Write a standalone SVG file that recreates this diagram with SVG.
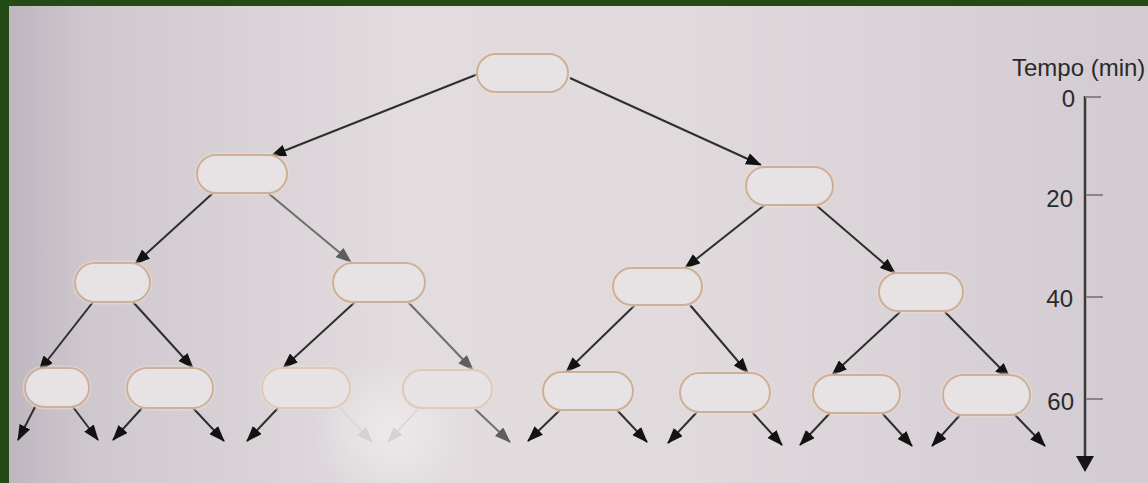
<svg xmlns="http://www.w3.org/2000/svg" width="1148" height="483" viewBox="0 0 1148 483">
<defs>
<linearGradient id="bg" x1="0" y1="0" x2="1" y2="0">
<stop offset="0" stop-color="#bdb5be"/>
<stop offset="0.08" stop-color="#cfc8cf"/>
<stop offset="0.35" stop-color="#e2dcdf"/>
<stop offset="0.6" stop-color="#e0dadd"/>
<stop offset="0.85" stop-color="#d7d0d6"/>
<stop offset="1" stop-color="#d3cbd2"/>
</linearGradient>
<radialGradient id="glare" cx="0.5" cy="0.5" r="0.5">
<stop offset="0" stop-color="#ffffff" stop-opacity="0.4"/>
<stop offset="1" stop-color="#ffffff" stop-opacity="0"/>
</radialGradient>
<marker id="ah" viewBox="0 0 16 12" refX="15" refY="6" markerWidth="16" markerHeight="12" markerUnits="userSpaceOnUse" orient="auto">
<path d="M0,0 L16,6 L0,12 z" fill="#121212"/>
</marker>
<marker id="ahg" viewBox="0 0 16 12" refX="15" refY="6" markerWidth="16" markerHeight="12" markerUnits="userSpaceOnUse" orient="auto">
<path d="M0,0 L16,6 L0,12 z" fill="#5e5e5e"/>
</marker>
<marker id="ahf" viewBox="0 0 16 12" refX="15" refY="6" markerWidth="16" markerHeight="12" markerUnits="userSpaceOnUse" orient="auto">
<path d="M0,0 L16,6 L0,12 z" fill="#d6d1d3"/>
</marker>
</defs>
<style>
.cell{fill:#e7e2e4;stroke:#ccb09a;stroke-width:2}
.glow{fill:none;stroke:#f0ddd0;stroke-width:5;opacity:0.5}
.c{stroke:#2e2e2e;stroke-width:2;fill:none;marker-end:url(#ah)}
.cg{stroke:#6e6e6e;stroke-width:2;fill:none;marker-end:url(#ahg)}
.cf{stroke:#d8d3d6;stroke-width:1.5;fill:none;marker-end:url(#ahf)}
.t{font-family:"Liberation Sans",Arial,sans-serif;font-size:24px;fill:#2a2a2a}
.tick{stroke:#8a8588;stroke-width:2}
</style>
<rect x="0" y="0" width="1148" height="483" fill="url(#bg)"/>
<ellipse cx="390" cy="430" rx="80" ry="70" fill="url(#glare)"/>
<rect x="0" y="0" width="1148" height="6" fill="#244b14"/>
<rect x="0" y="0" width="9" height="483" fill="#244b14"/>

<g id="connectors">
<line class="c" x1="478" y1="74" x2="271" y2="156"/>
<line class="c" x1="570" y1="78" x2="761" y2="165"/>
<line class="c" x1="213" y1="193" x2="135" y2="264"/>
<line class="cg" x1="268" y1="193" x2="351" y2="262"/>
<line class="c" x1="766" y1="204" x2="685" y2="268"/>
<line class="c" x1="817" y1="206" x2="895" y2="273"/>
<line class="c" x1="93" y1="302" x2="39" y2="371"/>
<line class="c" x1="133" y1="302" x2="193" y2="368"/>
<line class="c" x1="355" y1="302" x2="283" y2="368"/>
<line class="cg" x1="408" y1="302" x2="473" y2="370"/>
<line class="c" x1="635" y1="305" x2="566" y2="372"/>
<line class="c" x1="690" y1="305" x2="748" y2="373"/>
<line class="c" x1="900" y1="312" x2="832" y2="375"/>
<line class="c" x1="945" y1="312" x2="1010" y2="378"/>
<line class="c" x1="35" y1="407" x2="18" y2="440"/>
<line class="c" x1="73" y1="407" x2="98" y2="440"/>
<line class="c" x1="142" y1="408" x2="113" y2="440"/>
<line class="c" x1="193" y1="408" x2="224" y2="441"/>
<line class="c" x1="278" y1="408" x2="247" y2="441"/>
<line class="cf" x1="340" y1="408" x2="372" y2="442"/>
<line class="cf" x1="418" y1="409" x2="388" y2="442"/>
<line class="cg" x1="475" y1="409" x2="510" y2="442"/>
<line class="c" x1="560" y1="410" x2="528" y2="441"/>
<line class="c" x1="617" y1="410" x2="647" y2="442"/>
<line class="c" x1="697" y1="412" x2="668" y2="443"/>
<line class="c" x1="752" y1="412" x2="782" y2="445"/>
<line class="c" x1="830" y1="413" x2="800" y2="445"/>
<line class="c" x1="882" y1="413" x2="912" y2="446"/>
<line class="c" x1="960" y1="415" x2="932" y2="446"/>
<line class="c" x1="1015" y1="415" x2="1045" y2="446"/>
</g>

<g id="n0"><rect class="glow" x="477" y="54" width="91" height="38" rx="19"/><rect class="cell" x="477" y="54" width="91" height="38" rx="19"/></g>
<g id="n1a"><rect class="glow" x="197" y="155" width="90" height="38" rx="19"/><rect class="cell" x="197" y="155" width="90" height="38" rx="19"/></g>
<g id="n1b"><rect class="glow" x="746" y="167" width="87" height="38" rx="19"/><rect class="cell" x="746" y="167" width="87" height="38" rx="19"/></g>
<g id="n2a"><rect class="glow" x="75" y="263" width="75" height="39" rx="19.5"/><rect class="cell" x="75" y="263" width="75" height="39" rx="19.5"/></g>
<g id="n2b"><rect class="glow" x="333" y="263" width="92" height="39" rx="19.5"/><rect class="cell" x="333" y="263" width="92" height="39" rx="19.5"/></g>
<g id="n2c"><rect class="glow" x="613" y="268" width="89" height="37" rx="18.5"/><rect class="cell" x="613" y="268" width="89" height="37" rx="18.5"/></g>
<g id="n2d"><rect class="glow" x="879" y="273" width="84" height="38" rx="19"/><rect class="cell" x="879" y="273" width="84" height="38" rx="19"/></g>
<g id="n3a"><rect class="glow" x="25" y="368" width="64" height="39" rx="19.5"/><rect class="cell" x="25" y="368" width="64" height="39" rx="19.5"/></g>
<g id="n3b"><rect class="glow" x="127" y="368" width="86" height="40" rx="20"/><rect class="cell" x="127" y="368" width="86" height="40" rx="20"/></g>
<g id="n3c"><rect class="glow" x="262" y="368" width="88" height="40" rx="20"/><rect class="cell" x="262" y="368" width="88" height="40" rx="20" style="stroke:#dcc9ba"/></g>
<g id="n3d"><rect class="glow" x="403" y="370" width="89" height="38" rx="19"/><rect class="cell" x="403" y="370" width="89" height="38" rx="19" style="stroke:#ddcabb"/></g>
<g id="n3e"><rect class="glow" x="543" y="372" width="90" height="38" rx="19"/><rect class="cell" x="543" y="372" width="90" height="38" rx="19"/></g>
<g id="n3f"><rect class="glow" x="680" y="373" width="90" height="39" rx="19.5"/><rect class="cell" x="680" y="373" width="90" height="39" rx="19.5"/></g>
<g id="n3g"><rect class="glow" x="813" y="375" width="87" height="38" rx="19"/><rect class="cell" x="813" y="375" width="87" height="38" rx="19"/></g>
<g id="n3h"><rect class="glow" x="943" y="375" width="87" height="40" rx="20"/><rect class="cell" x="943" y="375" width="87" height="40" rx="20"/></g>

<g id="axis">
<text class="t" x="1012" y="76">Tempo (min)</text>
<line x1="1085" y1="96" x2="1085" y2="458" stroke="#3a3a3a" stroke-width="2.5"/>
<path d="M1076,456 L1094,456 L1085,472 z" fill="#151515"/>
<line class="tick" x1="1085" y1="97" x2="1101" y2="97"/>
<line class="tick" x1="1086" y1="195" x2="1103" y2="195"/>
<line class="tick" x1="1086" y1="297" x2="1103" y2="297"/>
<line class="tick" x1="1086" y1="399" x2="1103" y2="399"/>
<text class="t" x="1075" y="107" text-anchor="end">0</text>
<text class="t" x="1073" y="207" text-anchor="end">20</text>
<text class="t" x="1073" y="307" text-anchor="end">40</text>
<text class="t" x="1074" y="410" text-anchor="end">60</text>
</g>
</svg>
